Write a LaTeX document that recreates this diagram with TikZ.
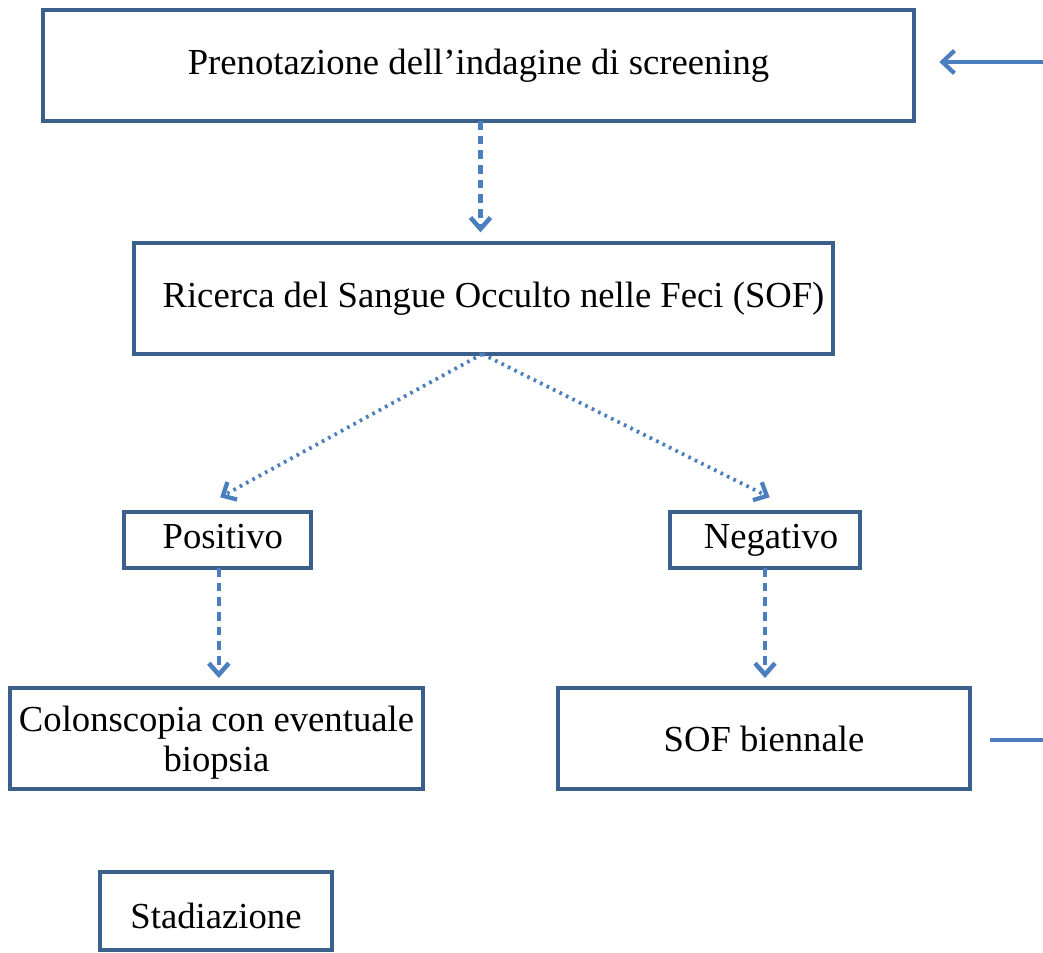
\documentclass[tikz,border=0pt]{standalone}
\usepackage{fontspec}
\setmainfont{Liberation Serif}
\usetikzlibrary{arrows.meta}
\definecolor{boxc}{RGB}{60,96,140}
\definecolor{arrc}{RGB}{74,126,190}
\begin{document}
\begin{tikzpicture}[x=0.75pt,y=-0.75pt,
  box/.style={draw=boxc,line width=2.8pt,inner sep=0pt,outer sep=0pt,align=center,
    font=\fontsize{27.5}{31}\selectfont},
  dash arrow/.style={draw=arrc,line width=3.2pt,dash pattern=on 6.5pt off 4.5pt,
    -{Straight Barb[length=8.5pt,width=15pt,line width=3.4pt]}},
  dot arrow/.style={draw=arrc,line width=2.8pt,dash pattern=on 2pt off 3.4pt,
    -{Straight Barb[length=8pt,width=15pt,line width=3.2pt]}},
  solid arrow/.style={draw=arrc,line width=3pt,
    -{Straight Barb[length=9pt,width=17pt,line width=3.2pt]}},
  plain line/.style={draw=arrc,line width=3pt}]
\useasboundingbox (0,0) rectangle (1043,953);
\node[box,minimum width=871*0.75pt,minimum height=111*0.75pt] (top) at (478.5,65.5)
  {Prenotazione dell’indagine di screening};
\node[box,minimum width=699*0.75pt,minimum height=111*0.75pt] (ric) at (483.5,298.5)
  {\hspace*{15pt}Ricerca del Sangue Occulto nelle Feci (SOF)};
\node[box,minimum width=187*0.75pt,minimum height=56*0.75pt] (pos) at (217.5,540)
  {\hspace*{8pt}Positivo\strut};
\node[box,minimum width=190*0.75pt,minimum height=56*0.75pt] (neg) at (765,540)
  {\hspace*{9pt}Negativo\strut};
\node[box,minimum width=413*0.75pt,minimum height=101*0.75pt] (col) at (216.5,738.5)
  {\begin{tabular}{@{}c@{}}\rule{0pt}{29pt}Colonscopia con eventuale\\[-1pt]biopsia\end{tabular}};
\node[box,minimum width=412*0.75pt,minimum height=101*0.75pt] (sof) at (764,738.5)
  {SOF biennale};
\node[box,minimum width=232*0.75pt,minimum height=78*0.75pt] (sta) at (216,911)
  {\rule{0pt}{26pt}Stadiazione};
\coordinate (rin) at (1043,62);
\coordinate (sofout) at (1043,740);
\draw[dash arrow,shorten >=8pt] ([xshift=1.5pt]top.south) -- ([xshift=1.5pt]top.south |- ric.north);
\draw[dot arrow] ([xshift=-1pt]ric.south) -- ([xshift=2pt,yshift=11pt]pos.north);
\draw[dot arrow] ([xshift=-1pt]ric.south) -- ([xshift=3.5pt,yshift=11pt]neg.north);
\draw[dash arrow,shorten >=7.5pt] ([xshift=1pt]pos.south) -- ([xshift=1pt]pos.south |- col.north);
\draw[dash arrow,shorten >=7.5pt] (neg.south) -- (neg.south |- sof.north);
\draw[solid arrow,shorten >=19pt] (rin) -- (rin -| top.east);
\draw[plain line,shorten <=15pt] (sofout -| sof.east) -- (sofout);
\end{tikzpicture}
\end{document}
